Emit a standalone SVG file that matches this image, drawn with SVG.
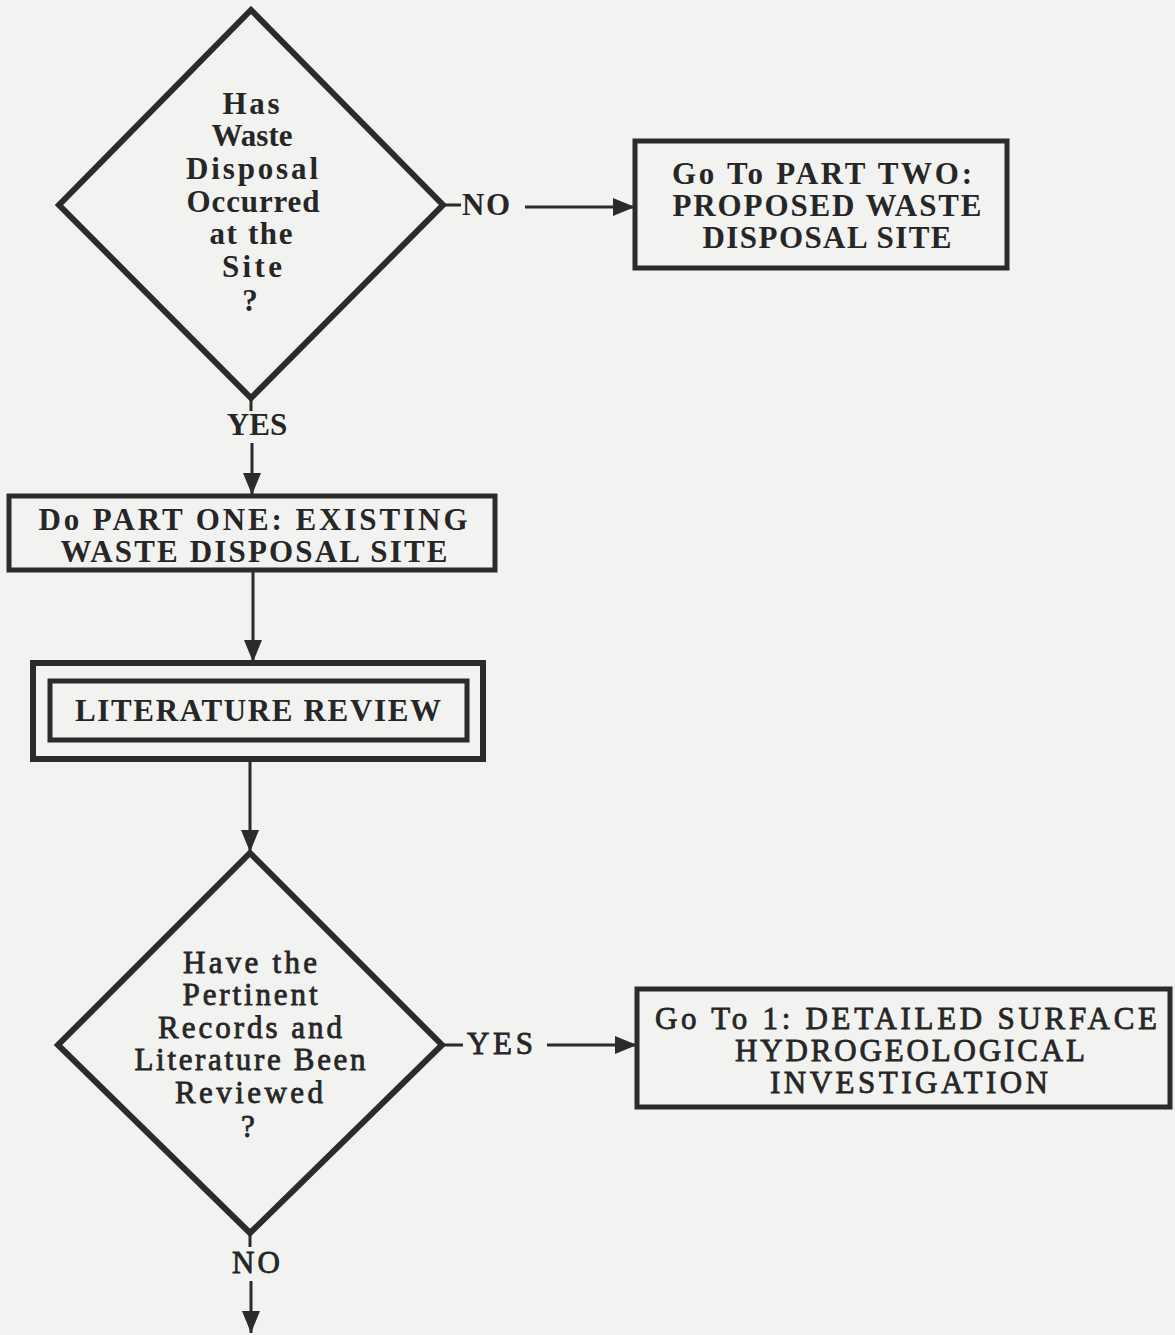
<svg xmlns="http://www.w3.org/2000/svg" width="1175" height="1335" viewBox="0 0 1175 1335">
  <defs>
    <marker id="arrow" viewBox="0 0 22 18" refX="22" refY="9" markerWidth="22" markerHeight="18" markerUnits="userSpaceOnUse" orient="auto">
      <path d="M0,0 L22,9 L0,18 Z" fill="#2b2b2b"/>
    </marker>
    <style>
      .bg { fill: #f2f2f0; }
      .shape { fill: none; stroke: #2b2b2b; stroke-width: 6; stroke-linejoin: miter; }
      .box { fill: none; stroke: #2b2b2b; stroke-width: 5; }
      .link { fill: none; stroke: #2b2b2b; stroke-width: 3; }
      text { font-family: "Liberation Serif", "Times New Roman", serif; fill: #262626; text-anchor: middle; }
      .b { font-size: 31px; font-weight: bold; }
      .m { font-size: 31px; font-weight: normal; stroke: #262626; stroke-width: 0.8; }
    </style>
  </defs>

  <rect class="bg" x="0" y="0" width="1175" height="1335"/>

  <!-- decision: has disposal occurred -->
  <g id="q-disposal">
    <polygon class="shape" points="251,10 443,205 251,398 59,205"/>
    <text class="b" x="251" y="114" textLength="57" lengthAdjust="spacing">Has</text>
    <text class="b" x="252" y="146">Waste</text>
    <text class="b" x="252" y="179" textLength="132" lengthAdjust="spacing">Disposal</text>
    <text class="b" x="253" y="212" textLength="133" lengthAdjust="spacing">Occurred</text>
    <text class="b" x="251" y="244" textLength="83" lengthAdjust="spacing">at the</text>
    <text class="b" x="252" y="277" textLength="60" lengthAdjust="spacing">Site</text>
    <text class="b" x="250" y="311">?</text>
  </g>

  <!-- terminal: part two -->
  <g id="goto-part-two">
    <rect class="box" x="635" y="141" width="372" height="127"/>
    <text class="b" x="822" y="184" textLength="300" lengthAdjust="spacing">Go To PART TWO:</text>
    <text class="b" x="827" y="216" textLength="309" lengthAdjust="spacing">PROPOSED WASTE</text>
    <text class="b" x="827" y="248" textLength="249" lengthAdjust="spacing">DISPOSAL  SITE</text>
  </g>

  <!-- process: part one -->
  <g id="do-part-one">
    <rect class="box" x="9" y="496" width="486" height="74"/>
    <text class="b" x="253" y="530" textLength="429" lengthAdjust="spacing">Do PART ONE:  EXISTING</text>
    <text class="b" x="254" y="562" textLength="387" lengthAdjust="spacing">WASTE  DISPOSAL  SITE</text>
  </g>

  <!-- predefined process: literature review -->
  <g id="literature-review">
    <rect class="shape" x="33" y="663" width="450" height="96"/>
    <rect class="box" x="50" y="681" width="417" height="59"/>
    <text class="b" x="258" y="721" textLength="366" lengthAdjust="spacing">LITERATURE REVIEW</text>
  </g>

  <!-- decision: records reviewed -->
  <g id="q-records">
    <polygon class="shape" points="250,853 442,1045 250,1233 58,1045"/>
    <text class="m" x="250" y="973" textLength="134" lengthAdjust="spacing">Have the</text>
    <text class="m" x="250" y="1005" textLength="135" lengthAdjust="spacing">Pertinent</text>
    <text class="m" x="250" y="1038" textLength="184" lengthAdjust="spacing">Records and</text>
    <text class="m" x="250" y="1070" textLength="231" lengthAdjust="spacing">Literature Been</text>
    <text class="m" x="249" y="1103" textLength="148" lengthAdjust="spacing">Reviewed</text>
    <text class="m" x="248" y="1137">?</text>
  </g>

  <!-- terminal: detailed surface investigation -->
  <g id="goto-surface">
    <rect class="box" x="637" y="989" width="533" height="118"/>
    <text class="m" x="906" y="1029" textLength="502" lengthAdjust="spacing">Go To 1:  DETAILED SURFACE</text>
    <text class="m" x="910" y="1061" textLength="350" lengthAdjust="spacing">HYDROGEOLOGICAL</text>
    <text class="m" x="909" y="1093" textLength="278" lengthAdjust="spacing">INVESTIGATION</text>
  </g>

  <!-- connectors and branch labels -->
  <g id="connectors">
    <line class="link" x1="443" y1="205" x2="461" y2="205"/>
    <line class="link" x1="525" y1="207" x2="635" y2="207" marker-end="url(#arrow)"/>
    <line class="link" x1="251" y1="398" x2="251" y2="411"/>
    <line class="link" x1="252" y1="443" x2="252" y2="495" marker-end="url(#arrow)"/>
    <line class="link" x1="253" y1="570" x2="253" y2="662" marker-end="url(#arrow)"/>
    <line class="link" x1="250" y1="759" x2="250" y2="852" marker-end="url(#arrow)"/>
    <line class="link" x1="442" y1="1045" x2="463" y2="1045"/>
    <line class="link" x1="547" y1="1045" x2="637" y2="1045" marker-end="url(#arrow)"/>
    <line class="link" x1="250" y1="1233" x2="250" y2="1247"/>
    <line class="link" x1="251" y1="1281" x2="251" y2="1333" marker-end="url(#arrow)"/>
    <text class="b" x="486" y="215" textLength="48" lengthAdjust="spacing">NO</text>
    <text class="b" x="257" y="435">YES</text>
    <text class="m" x="500" y="1054" textLength="66" lengthAdjust="spacing">YES</text>
    <text class="m" x="256" y="1273" textLength="48" lengthAdjust="spacing">NO</text>
  </g>
</svg>
